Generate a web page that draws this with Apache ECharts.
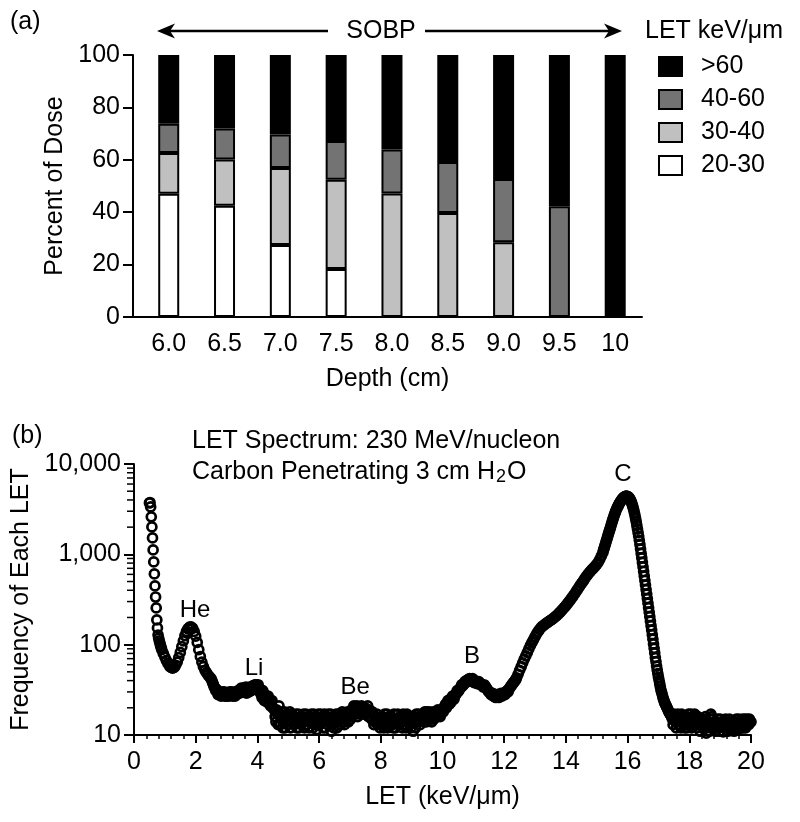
<!DOCTYPE html>
<html><head><meta charset="utf-8">
<script src="https://cdn.jsdelivr.net/npm/echarts@6.0.0/dist/echarts.min.js"></script>
<style>html,body{margin:0;padding:0;background:#fff}#c{width:800px;height:822px}</style>
</head><body><div id="c"></div>
<script>
// ---------- Panel (a): percent of dose by LET bin ----------
const depths = [6.0, 6.5, 7.0, 7.5, 8.0, 8.5, 9.0, 9.5, 10];
const depthLabels = ['6.0', '6.5', '7.0', '7.5', '8.0', '8.5', '9.0', '9.5', '10'];
const dose20to30 = [47.0, 42.5, 27.5, 18.3, 0, 0, 0, 0, 0];
const dose30to40 = [15.6, 17.6, 29.4, 34.1, 47.1, 39.7, 28.5, 0, 0];
const dose40to60 = [11.2, 11.8, 12.8, 14.8, 16.8, 19.5, 24.2, 42.3, 0];
const doseOver60 = [26.2, 28.1, 30.3, 32.8, 36.1, 40.8, 47.3, 57.7, 100];
const binNames = ['20-30', '30-40', '40-60', '>60'];
const legendOrder = ['>60', '40-60', '30-40', '20-30'];

// ---------- Panel (b): LET spectrum (LET keV/um, frequency) ----------
const specSteep = [[0.50,3700],[0.52,3750],[0.54,3350],[0.56,2600],[0.58,2010],[0.60,1520],[0.62,1120],[0.64,824],[0.66,607],[0.68,447],[0.70,337],[0.72,255],[0.74,188],[0.76,153],[0.78,128],[0.80,118],[0.82,110],[0.84,104],[0.86,98],[0.88,93]];
const specHeLi = [[0.90,88],[0.95,80],[1.00,73],[1.05,67],[1.10,62],[1.15,58],[1.20,56],[1.25,55],[1.30,56],[1.35,59],[1.40,64],[1.45,72],[1.50,82],[1.55,95],[1.60,110],[1.65,126],[1.70,140],[1.75,150],[1.80,156],[1.85,157],[1.90,152],[1.95,140],[2.00,124],[2.05,106],[2.10,88],[2.15,74],[2.20,64],[2.25,57],[2.30,52],[2.35,49],[2.40,46],[2.45,44],[2.50,42],[2.55,38],[2.60,34],[2.65,31],[2.70,30],[2.75,29],[2.80,28],[2.85,30],[2.90,29],[2.95,27],[3.00,27],[3.05,28],[3.10,30],[3.15,29],[3.20,27],[3.25,28],[3.30,30],[3.35,29],[3.40,31],[3.45,32],[3.50,30],[3.55,33],[3.60,31],[3.65,29],[3.70,33],[3.75,34],[3.80,31],[3.85,35],[3.90,34],[3.95,36],[4.00,35],[4.05,33],[4.10,32],[4.15,26],[4.20,29],[4.25,25],[4.30,24],[4.35,27],[4.40,22],[4.45,23],[4.50,20]];
const specHeLiB = [[2.525,40],[2.575,36],[2.625,33],[2.675,32],[2.725,28],[2.775,30],[2.825,27],[2.875,28],[2.925,30],[2.975,28],[3.025,29],[3.075,27],[3.125,28],[3.175,30],[3.225,29],[3.275,27],[3.325,28],[3.375,31],[3.425,29],[3.475,33],[3.525,31],[3.575,30],[3.625,34],[3.675,31],[3.725,30],[3.775,32],[3.825,34],[3.875,32],[3.925,36],[3.975,33],[4.025,36],[4.075,30],[4.125,28],[4.175,31],[4.225,24],[4.275,27],[4.325,23],[4.375,25],[4.425,21],[4.475,24]];
const specPlateau = [[4.55,19],[4.60,14],[4.65,17],[4.70,21],[4.75,13],[4.80,18],[4.85,16],[4.90,12],[4.95,17],[5.00,15],[5.05,18],[5.10,14],[5.15,16],[5.20,13],[5.25,17],[5.30,15],[5.35,12],[5.40,16],[5.45,14],[5.50,17],[5.55,15],[5.60,13],[5.65,16],[5.70,14],[5.75,17],[5.80,12],[5.85,15],[5.90,16],[5.95,13],[6.00,15],[6.05,17],[6.10,14],[6.15,16],[6.20,12],[6.25,15],[6.30,17],[6.35,14],[6.40,11],[6.45,16],[6.50,15],[6.55,17],[6.60,14],[6.65,16],[6.70,13],[6.75,18],[6.80,15],[6.85,17],[6.90,16],[6.95,14],[7.00,18],[7.05,19],[7.10,17],[7.15,20],[7.20,19],[7.25,16],[7.30,20],[7.35,18],[7.40,19],[7.45,17],[7.50,20],[7.55,19],[7.60,16],[7.65,18],[7.70,15],[7.75,17],[7.80,14],[7.85,16],[7.90,13],[7.95,15],[8.00,14],[8.05,16],[8.10,12],[8.15,15],[8.20,17],[8.25,14],[8.30,13],[8.35,16],[8.40,12],[8.45,15],[8.50,14],[8.55,17],[8.60,13],[8.65,15],[8.70,12],[8.75,16],[8.80,14],[8.85,17],[8.90,15],[8.95,13],[9.00,16],[9.05,11],[9.10,15],[9.15,17],[9.20,14],[9.25,16],[9.30,15],[9.35,17],[9.40,14],[9.45,16],[9.50,18],[9.55,15],[9.60,17],[9.65,14],[9.70,18],[9.75,16],[9.80,17],[9.85,19],[9.90,18],[9.95,17],[10.00,19]];
const specPlateauB = [[4.575,16],[4.625,19],[4.675,13],[4.725,17],[4.775,15],[4.825,12],[4.875,18],[4.925,14],[4.975,13],[5.025,16],[5.075,12],[5.125,17],[5.175,15],[5.225,14],[5.275,12],[5.325,17],[5.375,15],[5.425,13],[5.475,16],[5.525,12],[5.575,17],[5.625,15],[5.675,12],[5.725,16],[5.775,14],[5.825,17],[5.875,13],[5.925,11.5],[5.975,17],[6.025,13],[6.075,15],[6.125,12],[6.175,17],[6.225,14],[6.275,13],[6.325,15],[6.375,17],[6.425,13],[6.475,12],[6.525,14],[6.575,12],[6.625,17],[6.675,15],[6.725,17],[6.775,14],[6.825,13],[6.875,15],[6.925,18],[6.975,16],[7.025,15],[7.075,18],[7.125,21],[7.175,17],[7.225,21],[7.275,18],[7.325,17],[7.375,21],[7.425,20],[7.475,18],[7.525,17],[7.575,21],[7.625,19],[7.675,16],[7.725,18],[7.775,13],[7.825,15],[7.875,17],[7.925,14],[7.975,12],[8.025,15],[8.075,13],[8.125,17],[8.175,13],[8.225,12],[8.275,16],[8.325,15],[8.375,13],[8.425,17],[8.475,12],[8.525,15],[8.575,13],[8.625,16],[8.675,14],[8.725,17],[8.775,13],[8.825,12],[8.875,15],[8.925,16],[8.975,12],[9.025,14],[9.075,16],[9.125,12],[9.175,15],[9.225,17],[9.275,13],[9.325,15],[9.375,16],[9.425,18],[9.475,14],[9.525,16],[9.575,18],[9.625,15],[9.675,17],[9.725,15],[9.775,18],[9.825,16],[9.875,18],[9.925,16],[9.975,18]];
const specBoron = [[10.05,20],[10.10,22],[10.15,21],[10.20,23],[10.25,25],[10.30,24],[10.35,26],[10.40,27],[10.45,29],[10.50,30],[10.55,32],[10.60,34],[10.65,35],[10.70,37],[10.75,38],[10.80,39],[10.85,40],[10.90,41],[10.95,40],[11.00,39],[11.05,40],[11.10,38],[11.15,37],[11.20,38],[11.25,36],[11.30,35],[11.35,36],[11.40,34],[11.45,32],[11.50,30],[11.55,29],[11.60,28],[11.65,27],[11.70,28],[11.75,27],[11.80,28],[11.85,27],[11.90,29],[11.95,28],[12.00,29],[12.05,30],[12.10,31],[12.15,32],[12.20,34],[12.25,36],[12.30,38],[12.35,40],[12.40,43],[12.45,47],[12.50,52],[12.55,57],[12.60,63],[12.65,69],[12.70,75],[12.75,82],[12.80,90],[12.85,98],[12.90,106],[12.95,114],[13.00,123],[13.05,132],[13.10,140],[13.15,148],[13.20,155],[13.25,161],[13.30,166],[13.35,171],[13.40,176],[13.45,181],[13.50,186],[13.55,191],[13.60,197],[13.65,203],[13.70,210],[13.75,218],[13.80,227],[13.85,237],[13.90,247],[13.95,258],[14.00,270],[14.05,284],[14.10,299],[14.15,315],[14.20,333],[14.25,352],[14.30,373],[14.35,396],[14.40,420],[14.45,446],[14.50,473],[14.55,500],[14.60,530],[14.65,562],[14.70,594],[14.75,624],[14.80,652],[14.85,680],[14.90,710],[14.95,740],[15.00,775],[15.05,820],[15.10,880],[15.15,960],[15.20,1050]];
const specBoronB = [[10.025,18],[10.075,21],[10.125,20],[10.175,24],[10.225,22],[10.275,23],[10.325,27],[10.375,25],[10.425,28],[10.475,31],[10.525,31],[10.575,33],[10.625,36],[10.675,36],[10.725,39],[10.775,40],[10.825,41],[10.875,42],[10.925,41],[10.975,42],[11.025,38],[11.075,39],[11.125,37],[11.175,39],[11.225,37],[11.275,36],[11.325,34],[11.375,35],[11.425,33],[11.475,31],[11.525,30],[11.575,28],[11.625,29],[11.675,27],[11.725,26],[11.775,28],[11.825,26],[11.875,28],[11.925,27],[11.975,29],[12.025,28],[12.075,30],[12.125,30],[12.175,33],[12.225,35],[12.275,37],[12.325,39],[12.375,41]];
const specCarbonRise = [[15.22,1120],[15.24,1170],[15.26,1230],[15.28,1300],[15.30,1370],[15.32,1440],[15.34,1520],[15.36,1600],[15.38,1690],[15.40,1780],[15.42,1860],[15.44,1960],[15.46,2070],[15.48,2180],[15.50,2300],[15.52,2420],[15.54,2540],[15.56,2660],[15.58,2790],[15.60,2910],[15.62,3030],[15.64,3150],[15.66,3260],[15.68,3370],[15.70,3480],[15.72,3590],[15.74,3690],[15.76,3790],[15.78,3890],[15.80,3980],[15.82,4060],[15.84,4140],[15.86,4210],[15.88,4270],[15.90,4320],[15.92,4360],[15.94,4390],[15.96,4400],[15.98,4390]];
const specCarbonFall = [[16.00,4365],[16.02,4315],[16.04,4266],[16.06,4169],[16.08,4074],[16.10,3936],[16.12,3802],[16.14,3631],[16.16,3467],[16.18,3273],[16.20,3090],[16.22,2884],[16.24,2692],[16.26,2483],[16.28,2291],[16.30,2089],[16.32,1905],[16.34,1738],[16.36,1585],[16.38,1429],[16.40,1288],[16.42,1148],[16.44,1023],[16.46,912],[16.48,813],[16.50,724],[16.52,646],[16.54,575],[16.56,513],[16.58,457],[16.60,407],[16.62,363],[16.64,324],[16.66,288],[16.68,257],[16.70,229],[16.72,204],[16.74,182],[16.76,162],[16.78,145],[16.80,129],[16.82,115],[16.84,102],[16.86,91],[16.88,81],[16.90,72],[16.92,65],[16.94,58],[16.96,52.5],[16.98,47.9],[17.00,43.7],[17.02,40.3],[17.04,37.2],[17.06,34.3],[17.08,31.6],[17.10,29.9],[17.12,28.2],[17.14,26.6],[17.16,25.1],[17.18,24.0],[17.20,22.9],[17.22,22.1],[17.24,21.4],[17.26,20.7],[17.28,20.0],[17.30,19.3],[17.32,18.6],[17.34,18.0],[17.36,17.4],[17.38,17.0],[17.40,16.6]];
const specTail = [[17.45,15],[17.50,17],[17.55,14],[17.60,16],[17.65,13],[17.70,15],[17.75,17],[17.80,14],[17.85,12],[17.90,16],[17.95,15],[18.00,13],[18.05,17],[18.10,14],[18.15,16],[18.20,15],[18.25,12],[18.30,14],[18.35,11],[18.40,13],[18.45,15],[18.50,12],[18.55,10.5],[18.60,14],[18.65,11],[18.70,17],[18.75,15],[18.80,13],[18.85,11],[18.90,14],[18.95,12],[19.00,15],[19.05,13],[19.10,10.8],[19.15,12],[19.20,14],[19.25,11],[19.30,15],[19.35,12],[19.40,13],[19.45,11],[19.50,14],[19.55,12],[19.60,15],[19.65,13],[19.70,14],[19.75,12],[19.80,15],[19.85,13],[19.90,14],[19.95,15],[20.00,14]];
const specTailB = [[17.425,16],[17.475,13],[17.525,15],[17.575,12],[17.625,17],[17.675,14],[17.725,12],[17.775,16],[17.825,15],[17.875,13],[17.925,12],[17.975,17],[18.025,15],[18.075,12],[18.125,13],[18.175,17],[18.225,14],[18.275,16],[18.325,13],[18.375,15],[18.425,12],[18.475,14],[18.525,16],[18.575,12],[18.625,13],[18.675,15],[18.725,16],[18.775,12],[18.825,14],[18.875,12],[18.925,15],[18.975,11],[19.025,13],[19.075,14],[19.125,12],[19.175,15],[19.225,12.5],[19.275,13],[19.325,11.5],[19.375,14],[19.425,12],[19.475,13],[19.525,15],[19.575,11.5],[19.625,14],[19.675,12],[19.725,15],[19.775,13],[19.825,12],[19.875,15],[19.925,13],[19.975,14]];

const peakNames = ['He', 'Li', 'Be', 'B', 'C'];
const peakLET = [1.98, 3.89, 7.17, 10.96, 15.85];
const peakFreq = [242, 55, 34, 75, 7770];
const letTicks = [0, 2, 4, 6, 8, 10, 12, 14, 16, 18, 20];
const freqTicks = [10, 100, 1000, 10000];
const freqMinorTicks = [20,30,40,50,60,70,80,90,200,300,400,500,600,700,800,900,2000,3000,4000,5000,6000,7000,8000,9000];

// ---------- chart ----------
const FONT = "'Liberation Sans', Arial, Helvetica, sans-serif";
const spectrum = [].concat(specSteep, specHeLi, specHeLiB, specPlateau, specPlateauB, specBoron, specBoronB, specCarbonRise, specCarbonFall, specTail, specTailB);
const binValues = [dose20to30, dose30to40, dose40to60, doseOver60];
const binColors = ['#ffffff', '#c0c0c0', '#737373', '#000000'];
const axisLineStyle = { color: '#000', width: 2 };

const chart = echarts.init(document.getElementById('c'), null, { renderer: 'canvas' });

// dose value first so that the stack is computed on the dose dimension
const barSeries = binValues.map((vals, i) => ({
  type: 'bar', name: binNames[i], stack: 'dose', xAxisIndex: 0, yAxisIndex: 0,
  barWidth: 21, silent: true,
  encode: { x: 1, y: 0 },
  data: depths.map((d, j) => [vals[j], d]),
  itemStyle: { color: binColors[i], borderColor: '#000', borderWidth: 2 }
}));

const option = {
  animation: false,
  textStyle: { fontFamily: FONT, color: '#000' },
  grid: [
    { left: 133, right: 158, top: 55, height: 262 },
    { left: 134, right: 49, top: 464, bottom: 87 }
  ],
  legend: {
    data: legendOrder, orient: 'vertical', left: 658, top: 54, padding: 0,
    icon: 'rect', itemWidth: 23, itemHeight: 19, itemGap: 8, selectedMode: false,
    textStyle: { fontSize: 25, color: '#000', fontFamily: FONT, lineHeight: 21, padding: [0, 0, 0, 14] }
  },
  xAxis: [
    {
      type: 'value', gridIndex: 0, min: 5.68, max: 10.24,
      axisLine: { lineStyle: axisLineStyle }, axisTick: { show: false }, splitLine: { show: false },
      axisLabel: {
        customValues: depths, margin: 15, fontSize: 25, color: '#000', fontFamily: FONT,
        formatter: v => { const k = depths.findIndex(d => Math.abs(d - v) < 1e-6); return k >= 0 ? depthLabels[k] : ''; }
      },
      name: 'Depth (cm)', nameLocation: 'middle', nameGap: 50,
      nameTextStyle: { fontSize: 25, color: '#000', fontFamily: FONT }
    },
    {
      type: 'value', gridIndex: 1, min: 0, max: 20, interval: 2,
      axisLine: { lineStyle: axisLineStyle },
      axisTick: { length: 8, lineStyle: { width: 2, color: '#000' } },
      minorTick: { show: true, splitNumber: 5, length: 4, lineStyle: { width: 1.5, color: '#000' } },
      splitLine: { show: false },
      axisLabel: { margin: 15, fontSize: 25, color: '#000', fontFamily: FONT, customValues: letTicks },
      name: 'LET (keV/\u03bcm)', nameLocation: 'middle', nameGap: 50,
      nameTextStyle: { fontSize: 25, color: '#000', fontFamily: FONT }
    }
  ],
  yAxis: [
    {
      type: 'value', gridIndex: 0, min: 0, max: 100, interval: 20,
      axisLine: { show: true, lineStyle: axisLineStyle },
      axisTick: { show: true, length: 10, lineStyle: { width: 2, color: '#000' } },
      splitLine: { show: false },
      axisLabel: { margin: 13, fontSize: 25, color: '#000', fontFamily: FONT },
      name: 'Percent of Dose', nameLocation: 'middle', nameGap: 61,
      nameTextStyle: { fontSize: 25, color: '#000', fontFamily: FONT }
    },
    {
      type: 'log', logBase: 10, gridIndex: 1, min: 10, max: 10000,
      axisLine: { show: true, lineStyle: axisLineStyle },
      axisTick: { show: true, length: 10, lineStyle: { width: 2, color: '#000' }, customValues: freqTicks },
      splitLine: { show: false },
      axisLabel: { margin: 13, fontSize: 25, color: '#000', fontFamily: FONT, customValues: freqTicks,
        formatter: v => Math.round(v).toString().replace(/\B(?=(\d{3})+(?!\d))/g, ',') },
      name: 'Frequency of Each LET', nameLocation: 'middle', nameGap: 100,
      nameTextStyle: { fontSize: 25, color: '#000', fontFamily: FONT }
    }
  ],
  series: barSeries.concat([
    {
      type: 'custom', xAxisIndex: 1, yAxisIndex: 1, silent: true, clip: false,
      data: freqMinorTicks.map(v => [0, v]),
      renderItem: (params, api) => {
        const p = api.coord([api.value(0), api.value(1)]);
        return { type: 'line', shape: { x1: p[0] - 7, y1: p[1], x2: p[0] - 1, y2: p[1] },
          style: { stroke: '#000', lineWidth: 1.5 } };
      }
    },
    {
      type: 'scatter', name: 'spectrum', xAxisIndex: 1, yAxisIndex: 1, silent: true,
      data: spectrum, symbol: 'circle', symbolSize: 9,
      itemStyle: { color: 'rgba(0,0,0,0)', borderColor: '#000', borderWidth: 2.7, opacity: 1 }
    },
    {
      type: 'scatter', name: 'peaks', xAxisIndex: 1, yAxisIndex: 1, silent: true,
      symbolSize: 1, itemStyle: { color: 'rgba(0,0,0,0)', opacity: 1 },
      data: peakNames.map((n, i) => ({ name: n, value: [peakLET[i], peakFreq[i]] })),
      label: { show: true, position: 'inside', formatter: '{b}', fontSize: 24, color: '#000', opacity: 1,
        textBorderWidth: 0, fontFamily: FONT }
    }
  ]),
  graphic: [
    { type: 'text', x: 10, y: 22, style: { text: '(a)', fontSize: 25, fontFamily: FONT, fill: '#000', verticalAlign: 'middle' } },
    { type: 'text', x: 381, y: 31, style: { text: 'SOBP', fontSize: 25, fontFamily: FONT, fill: '#000', align: 'center', verticalAlign: 'middle' } },
    { type: 'line', shape: { x1: 166, y1: 31, x2: 328, y2: 31 }, style: { stroke: '#000', lineWidth: 2.4 } },
    { type: 'polygon', shape: { points: [[157, 31], [175, 23.5], [170, 31], [175, 38.5]] }, style: { fill: '#000' } },
    { type: 'line', shape: { x1: 425, y1: 31, x2: 612, y2: 31 }, style: { stroke: '#000', lineWidth: 2.4 } },
    { type: 'polygon', shape: { points: [[622, 31], [604, 23.5], [609, 31], [604, 38.5]] }, style: { fill: '#000' } },
    { type: 'text', x: 645, y: 31, style: { text: 'LET keV/\u03bcm', fontSize: 25, fontFamily: FONT, fill: '#000', verticalAlign: 'middle' } },
    { type: 'text', x: 12, y: 436, style: { text: '(b)', fontSize: 25, fontFamily: FONT, fill: '#000', verticalAlign: 'middle' } },
    { type: 'text', x: 192, y: 441, style: { text: 'LET Spectrum: 230 MeV/nucleon', fontSize: 25, fontFamily: FONT, fill: '#000', verticalAlign: 'middle' } },
    { type: 'text', x: 192, y: 472, style: {
      text: 'Carbon Penetrating 3 cm H{s|2}O', fontSize: 25, fontFamily: FONT, fill: '#000', verticalAlign: 'middle',
      rich: { s: { fontSize: 18, fontFamily: FONT, fill: '#000', padding: [11, 1, 0, 1] } } } }
  ]
};
chart.setOption(option);
</script>
</body></html>
